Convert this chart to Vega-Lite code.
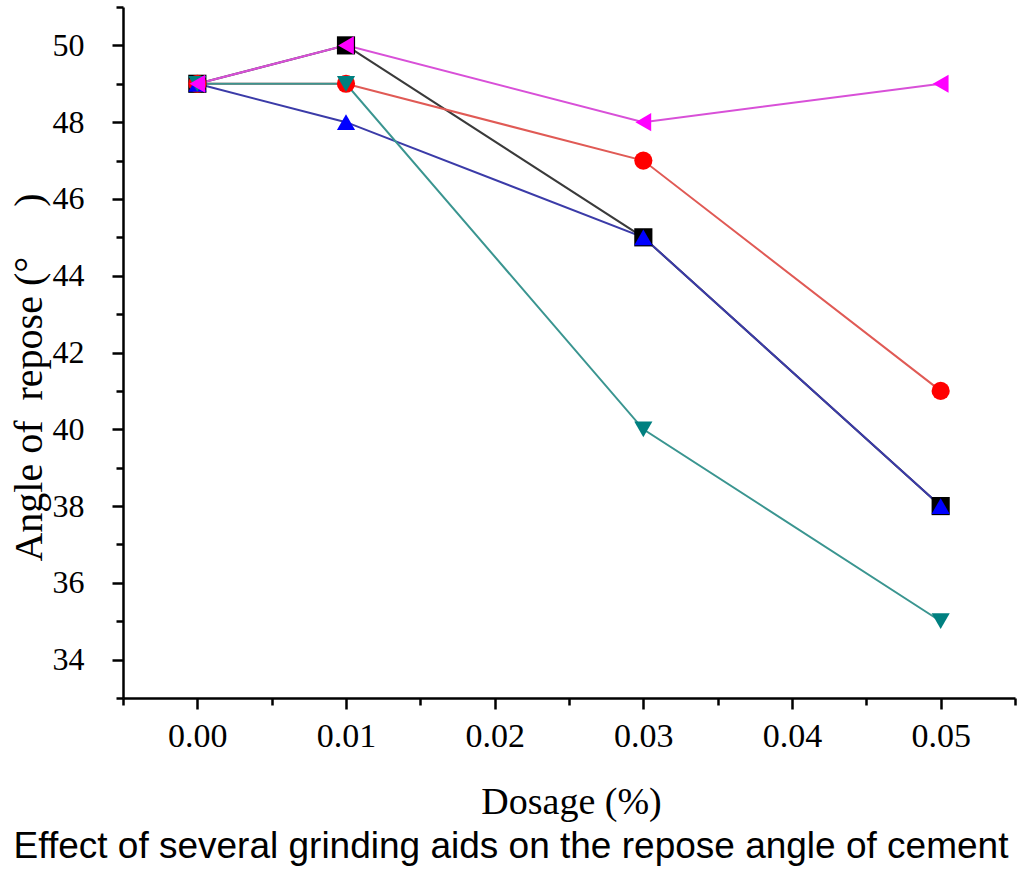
{
  "$schema": "https://vega.github.io/schema/vega-lite/v6.json",
  "width": 892,
  "height": 691,
  "autosize": "none",
  "padding": {"left": 123, "top": 7, "right": 9, "bottom": 171},
  "background": "white",
  "config": {
    "view": {"stroke": null},
    "axis": {
      "grid": false,
      "domainColor": "black",
      "domainWidth": 2.5,
      "tickColor": "black",
      "tickWidth": 2.5,
      "labelFont": "Liberation Serif",
      "labelColor": "black",
      "titleFont": "Liberation Serif",
      "titleFontWeight": "normal",
      "titleColor": "black"
    }
  },
  "title": {
    "text": "Effect of several grinding aids on the repose angle of cement",
    "orient": "bottom",
    "anchor": "middle",
    "font": "Liberation Sans",
    "fontSize": 37,
    "fontWeight": "normal",
    "color": "black",
    "offset": 8,
    "dx": -58
  },
  "data": {
    "values": [
      {"series": "A", "dosage": 0.0, "angle": 49},
      {"series": "A", "dosage": 0.01, "angle": 50},
      {"series": "A", "dosage": 0.03, "angle": 45},
      {"series": "A", "dosage": 0.05, "angle": 38},
      {"series": "B", "dosage": 0.0, "angle": 49},
      {"series": "B", "dosage": 0.01, "angle": 49},
      {"series": "B", "dosage": 0.03, "angle": 47},
      {"series": "B", "dosage": 0.05, "angle": 41},
      {"series": "C", "dosage": 0.0, "angle": 49},
      {"series": "C", "dosage": 0.01, "angle": 48},
      {"series": "C", "dosage": 0.03, "angle": 45},
      {"series": "C", "dosage": 0.05, "angle": 38},
      {"series": "D", "dosage": 0.0, "angle": 49},
      {"series": "D", "dosage": 0.01, "angle": 49},
      {"series": "D", "dosage": 0.03, "angle": 40},
      {"series": "D", "dosage": 0.05, "angle": 35},
      {"series": "E", "dosage": 0.0, "angle": 49},
      {"series": "E", "dosage": 0.01, "angle": 50},
      {"series": "E", "dosage": 0.03, "angle": 48},
      {"series": "E", "dosage": 0.05, "angle": 49}
    ]
  },
  "encoding": {
    "x": {
      "field": "dosage",
      "type": "quantitative",
      "scale": {"domain": [-0.005, 0.055], "nice": false, "zero": false},
      "axis": {
        "title": "Dosage (%)",
        "values": [-0.005, 0, 0.005, 0.01, 0.015, 0.02, 0.025, 0.03, 0.035, 0.04, 0.045, 0.05, 0.055],
        "labelExpr": "abs(round(datum.value*200)) % 2 == 0 ? format(datum.value, '.2f') : ''",
        "tickSize": {"condition": {"test": "abs(round(datum.value*200)) % 2 == 0", "value": 11}, "value": 7},
        "labelFontSize": 34,
        "labelPadding": 10,
        "titleFontSize": 38,
        "titleBaseline": "alphabetic",
        "titleY": 115,
        "titleX": 448
      }
    },
    "y": {
      "field": "angle",
      "type": "quantitative",
      "scale": {"domain": [33, 51], "nice": false, "zero": false},
      "axis": {
        "title": "Angle of\u00a0\u00a0repose (°\u00a0\u00a0\u00a0\u00a0\u00a0)",
        "values": [33, 34, 35, 36, 37, 38, 39, 40, 41, 42, 43, 44, 45, 46, 47, 48, 49, 50, 51],
        "labelExpr": "datum.value % 2 == 0 ? datum.label : ''",
        "tickSize": {"condition": {"test": "datum.value % 2 == 0", "value": 11}, "value": 7},
        "labelFontSize": 32,
        "labelPadding": 28,
        "titleFontSize": 40,
        "titleX": -94,
        "titleY": 370,
        "titleBaseline": "middle",
        "titleAngle": -90
      }
    }
  },
  "layer": [
    {
      "mark": {"type": "line", "strokeWidth": 2},
      "encoding": {
        "detail": {"field": "series"},
        "stroke": {
          "field": "series",
          "type": "nominal",
          "scale": {"domain": ["A", "B", "C", "D", "E"], "range": ["#3a3a3a", "#e05a55", "#3b3ba8", "#3a9590", "#d850d8"]},
          "legend": null
        }
      }
    },
    {
      "mark": {"type": "point", "filled": true, "opacity": 1, "size": 330},
      "encoding": {
        "fill": {
          "field": "series",
          "type": "nominal",
          "scale": {"domain": ["A", "B", "C", "D", "E"], "range": ["#000000", "#ff0000", "#0000ff", "#008080", "#ff00ff"]},
          "legend": null
        },
        "shape": {
          "field": "series",
          "type": "nominal",
          "scale": {"domain": ["A", "B", "C", "D", "E"], "range": ["square", "circle", "triangle-up", "triangle-down", "triangle-left"]},
          "legend": null
        }
      }
    }
  ]
}
